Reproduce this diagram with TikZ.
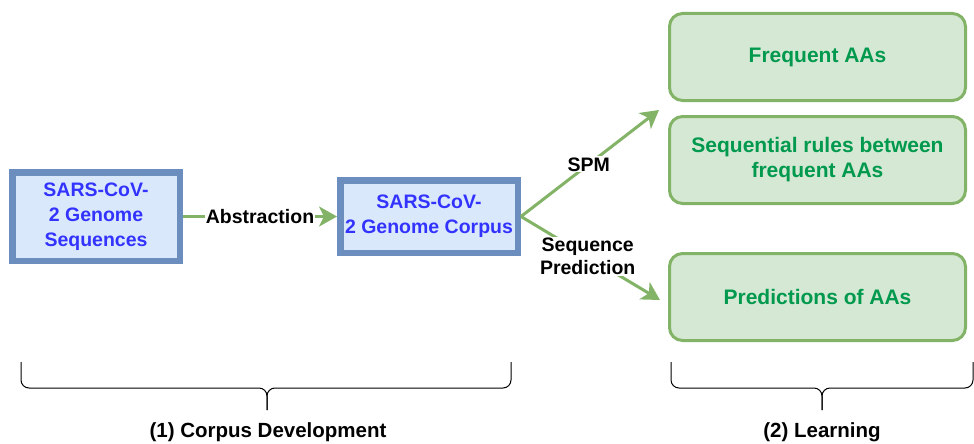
\documentclass[tikz,border=0pt]{standalone}
\usepackage{fontspec}
\setmainfont{Liberation Sans}
\usetikzlibrary{arrows.meta}

\definecolor{corpusblue}{HTML}{6C8EBF}
\definecolor{corpusfill}{HTML}{DAE8FC}
\definecolor{corpustext}{HTML}{3333FF}
\definecolor{learngreen}{HTML}{82B366}
\definecolor{learnfill}{HTML}{D5E8D4}
\definecolor{learntext}{HTML}{00994D}

\begin{document}
\begin{tikzpicture}[x=1pt,y=1pt]

		\tikzstyle{corpus} = [rectangle, draw=corpusblue, fill=corpusfill, line width=6.5pt, align=center, inner sep=2pt, text=corpustext, font=\fontsize{19.5}{25}\selectfont\bfseries]
		
		\tikzstyle{results} = [rectangle, rounded corners=13, draw=learngreen, fill=learnfill, line width=3pt, align=center, minimum width=296pt, minimum height=87pt, text=learntext, font=\fontsize{21}{25}\selectfont\bfseries]
		
		\tikzstyle{links} = [-{Stealth[length=18pt,width=20pt,inset=5pt]}, line width=3pt, draw=learngreen]
		
		\tikzstyle{tags} = [fill=white, align=center, inner sep=1pt, font=\fontsize{19.5}{23}\selectfont\bfseries]
		
		\tikzstyle{brackets} = [rounded corners=8, line width=1pt]
		
		\tikzstyle{phases} = [font=\fontsize{20.5}{24}\selectfont\bfseries]
		
		\useasboundingbox (0,0) rectangle (974,-444);
		
		\node[corpus, minimum width=167.5pt, minimum height=88.5pt] at (96,-216.5) (sequences) {SARS-CoV-\\2 Genome\\Sequences};
		\node[corpus, minimum width=177.5pt, minimum height=72.5pt] at (429,-216.5) (genomecorpus) {SARS-CoV-\\2 Genome Corpus};
		
		\node[results] at (817.5,-57) (frequent) {Frequent AAs};
		\node[results] at (817.5,-160) (rules) {Sequential rules between\\frequent AAs};
		\node[results] at (817.5,-297) (predictions) {Predictions of AAs};
		
		\coordinate (spmtip) at (659,-110);
		\coordinate (predtip) at (660,-300);
		
		\draw[links] (sequences) -- node[tags] {Abstraction} (genomecorpus);
		\draw[links] (genomecorpus.east) -- node[tags, pos=0.49] {SPM} (spmtip);
		\draw[links] (genomecorpus.east) -- node[tags, pos=0.48] {Sequence\\Prediction} (predtip);
		
		% braces below the two phases
		\coordinate (corpustip) at (267,-410);
		\coordinate (learningtip) at (822,-410);
		
		\draw[brackets] (21,-362) |- (267,-388) -- (corpustip);
		\draw[brackets] (511,-362) |- (267,-388) -- (corpustip);
		\draw[brackets] (671,-362) |- (822,-388) -- (learningtip);
		\draw[brackets] (973,-362) |- (822,-388) -- (learningtip);
		
		\node[phases] at (268,-432) (corpusphase) {(1) Corpus Development};
		\node[phases] at (822,-432) (learningphase) {(2) Learning};
	\end{tikzpicture}
\end{document}
